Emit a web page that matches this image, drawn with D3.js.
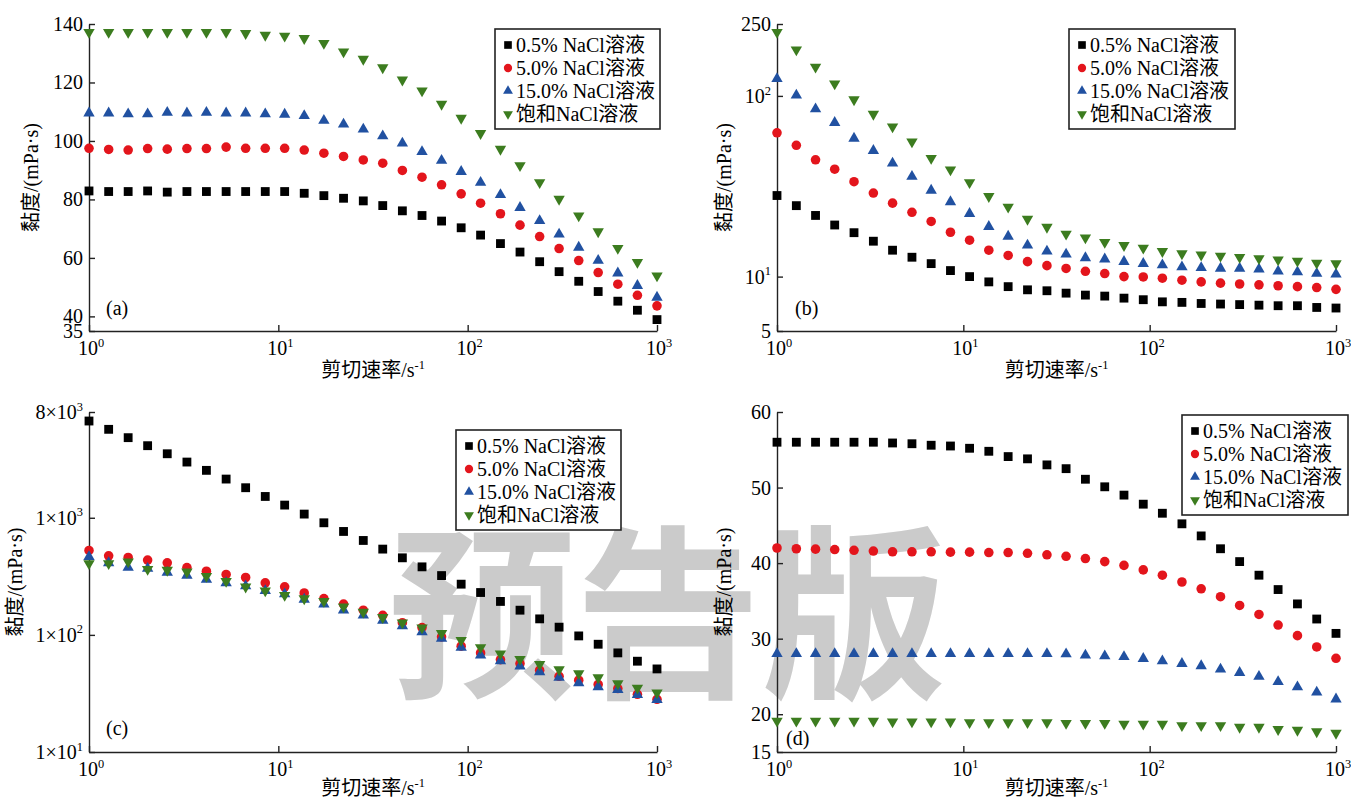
<!DOCTYPE html>
<html>
<head>
<meta charset="utf-8">
<script src="https://cdn.jsdelivr.net/npm/d3@7"></script>
<style>
  body { margin: 0; background: #fff; }
  text { font-family: "Liberation Serif", "Noto Sans CJK SC", serif; }
</style>
</head>
<body>
<script>
// shear rate points (s^-1), same for every panel
var shearRate = [1.00, 1.27, 1.61, 2.04, 2.59, 3.29, 4.17, 5.30, 6.72, 8.53,
  10.8, 13.7, 17.4, 22.1, 28.1, 35.6, 45.2, 57.4, 72.8, 92.4,
  117, 149, 189, 240, 304, 386, 489, 621, 788, 1000];

var seriesNames = ["0.5% NaCl溶液", "5.0% NaCl溶液", "15.0% NaCl溶液", "饱和NaCl溶液"];

// panel (a)
var a05 = [82.9,82.7,82.7,82.9,82.5,82.7,82.7,82.7,82.7,82.7,82.7,82.1,81.3,80.4,79.5,77.9,76.1,74.5,72.6,70.3,67.8,64.9,62.0,58.7,55.3,52.0,48.5,45.2,42.1,38.9];
var a50 = [97.5,97.1,96.9,97.4,97.2,97.4,97.4,97.9,97.5,97.5,97.5,96.9,95.8,94.7,93.5,92.4,89.9,87.6,85.0,81.9,78.7,75.1,71.2,67.3,63.2,59.1,55.0,51.0,47.2,43.6];
var a150 = [109.5,109.5,109.2,109.2,109.7,109.5,109.7,109.5,109.5,109.2,109.1,108.6,107.0,105.7,104.0,101.7,99.2,96.3,93.3,89.5,85.8,81.6,77.2,72.7,68.1,63.6,59.1,54.8,50.5,46.5];
var aSat = [137.2,137.2,137.2,137.2,137.2,137.2,137.2,137.2,136.8,136.2,135.9,135.1,133.4,130.5,128.0,125.1,120.9,117.2,112.6,107.8,102.6,97.2,91.6,85.8,80.1,74.4,69.0,63.3,58.5,53.9];
var aTicks = [35, 40, 60, 80, 100, 120, 140];
var aTickLabels = ["35", "40", "60", "80", "100", "120", "140"];

// panel (b)
var b05 = [28.1,24.7,21.8,19.3,17.5,15.7,14.0,12.8,11.8,10.8,10.0,9.35,8.8,8.45,8.35,8.1,7.9,7.8,7.6,7.45,7.25,7.2,7.1,7.05,7.0,6.95,6.9,6.9,6.75,6.7];
var b50 = [62.5,53.3,44.3,39.3,33.5,29.0,25.5,22.7,20.2,17.6,15.9,14.0,13.1,12.1,11.5,11.1,10.7,10.4,10.0,9.96,9.8,9.55,9.35,9.2,9.1,9.0,8.9,8.8,8.7,8.5];
var b150 = [124.5,100.8,84.6,71.1,58.2,49.8,42.4,35.8,30.0,25.9,22.3,18.9,16.7,14.9,13.8,13.3,12.7,12.5,12.1,11.8,11.6,11.3,11.2,11.1,11.1,11.0,10.7,10.6,10.4,10.3];
var bSat = [225,180,144.5,116.8,95.4,79.3,67.5,55.8,45.2,39.0,33.2,27.8,24.3,20.8,18.8,17.2,16.4,15.5,14.9,14.4,13.8,13.4,13.2,13.0,12.8,12.6,12.4,12.2,11.9,11.8];
var bTicks = [5, 10, 100, 250];
var bTickLabels = ["5", "10^1", "10^2", "250"];

// panel (c)
var c05 = [6700,5690,4830,4125,3520,2990,2540,2140,1805,1520,1283,1075,906,764,640,540,455,381,321,271,230,193,162.5,137,116.4,98,83.2,70.2,59.6,51.2];
var c50 = [526,473,458,435,412,376,350,328,309,278,257,228,204,183,162.5,147,127,115.5,96.2,80,70.2,61.5,56.9,49.9,44.3,41.0,37.7,34.8,31.1,28.2];
var c150 = [464,412,376,369,341,322,297,278,261,238,223,201,183,162.5,147,133,119,106,93,78,67,60,54,48.3,43.2,38.9,36,34.1,30.9,28.0];
var cSat = [407,407,421,364,357,345,317,287,257,238,218,204,194,174,157,141,127,115,103,90,78,69,62,56,50.5,46.8,43.2,38.4,35.2,32.1];
var cTicks = [10, 100, 1000, 8000];
var cTickLabels = ["1×10^1", "1×10^2", "1×10^3", "8×10^3"];

// panel (d)
var d05 = [56.0,56.0,56.0,56.0,56.0,56.0,55.9,55.8,55.6,55.5,55.2,54.8,54.1,53.8,53.0,52.5,51.1,50.1,49.0,47.8,46.6,45.2,43.6,41.9,40.2,38.4,36.5,34.6,32.6,30.7];
var d50 = [42.0,41.9,41.85,41.8,41.7,41.6,41.5,41.5,41.5,41.45,41.45,41.4,41.4,41.3,41.1,40.9,40.6,40.2,39.7,39.1,38.4,37.5,36.6,35.55,34.4,33.2,31.8,30.4,28.9,27.4];
var d150 = [28.0,28.0,28.0,28.0,28.0,28.0,28.0,28.0,28.0,28.0,28.0,28.0,28.0,28.0,28.0,27.97,27.8,27.7,27.6,27.35,27.05,26.7,26.4,25.95,25.5,25.0,24.3,23.6,22.9,22.0];
var dSat = [19.1,19.1,19.1,19.1,19.1,19.1,19.0,19.0,19.0,19.0,18.9,18.9,18.9,18.9,18.9,18.8,18.8,18.8,18.7,18.7,18.7,18.5,18.5,18.5,18.3,18.3,18.0,17.9,17.7,17.5];
var dTicks = [15, 20, 30, 40, 50, 60];
var dTickLabels = ["15", "20", "30", "40", "50", "60"];

var xTicks = [1, 10, 100, 1000];
var xTickLabels = ["10^0", "10^1", "10^2", "10^3"];

var colors = ["#000000", "#e3151c", "#2151a1", "#3c7c1f"];
var shapes = [d3.symbolSquare, d3.symbolCircle, d3.symbolTriangle, d3.symbolTriangle];
var sizes = [78, 72, 56, 56];
var fs = 20;

var svg = d3.select("body").append("svg")
  .attr("width", 1351)
  .attr("height", 801);

// watermark
svg.append("text")
  .attr("x", 668)
  .attr("y", 684)
  .attr("text-anchor", "middle")
  .style("font-family", "'Noto Sans CJK SC', sans-serif")
  .style("font-weight", "bold")
  .style("font-size", "186px")
  .style("fill", "#cbcbcb")
  .text("预告版");

function supText(sel, str, size) {
  var parts = str.split("^");
  sel.append("tspan").text(parts[0]);
  if (parts.length > 1) {
    sel.append("tspan")
      .attr("dy", -size * 0.42)
      .style("font-size", (size * 0.62) + "px")
      .text(parts[1]);
  }
}

function symbolPath(i, size) {
  return d3.symbol().type(shapes[i]).size(size)();
}

var panels = [
  {left: 89, right: 657, bottom: 331, top: 24, log: false, domain: [35, 140],
   ticks: aTicks, labels: aTickLabels, data: [a05, a50, a150, aSat],
   legend: [495, 29, 165, 100], tag: "(a)", tagX: 106, tagY: 315, yTitleX: 38, xTitleY: 377},
  {left: 777, right: 1336, bottom: 331, top: 24, log: true, domain: [5, 250],
   ticks: bTicks, labels: bTickLabels, data: [b05, b50, b150, bSat],
   legend: [1069, 29, 166, 100], tag: "(b)", tagX: 795, tagY: 315, yTitleX: 731, xTitleY: 377},
  {left: 89, right: 657, bottom: 752, top: 412, log: true, domain: [10, 8000],
   ticks: cTicks, labels: cTickLabels, data: [c05, c50, c150, cSat],
   legend: [456, 430, 165, 100], tag: "(c)", tagX: 106, tagY: 735, yTitleX: 22, xTitleY: 795},
  {left: 777, right: 1336, bottom: 752, top: 412, log: false, domain: [15, 60],
   ticks: dTicks, labels: dTickLabels, data: [d05, d50, d150, dSat],
   legend: [1182, 415, 166, 100], tag: "(d)", tagX: 786, tagY: 745, yTitleX: 731, xTitleY: 795}
];

panels.forEach(function(p) {
  var g = svg.append("g");

  var x = d3.scaleLog().domain([1, 1000]).range([p.left, p.right]);
  var y = (p.log ? d3.scaleLog() : d3.scaleLinear()).domain(p.domain).range([p.bottom, p.top]);

  // axes, ticks pointing inwards
  g.append("g")
    .attr("transform", "translate(0," + p.bottom + ")")
    .call(d3.axisBottom(x).tickValues(xTicks).tickSizeInner(-6).tickSizeOuter(0).tickFormat(""))
    .call(function(s) { s.selectAll("path, line").attr("stroke", "#222").attr("stroke-width", 1.4); });

  g.append("g")
    .attr("transform", "translate(" + p.left + ",0)")
    .call(d3.axisLeft(y).tickValues(p.ticks).tickSizeInner(-6).tickSizeOuter(0).tickFormat(""))
    .call(function(s) { s.selectAll("path, line").attr("stroke", "#222").attr("stroke-width", 1.4); });

  xTicks.forEach(function(t, i) {
    g.append("text")
      .attr("x", x(t) + 2)
      .attr("y", p.bottom + 24)
      .attr("text-anchor", "middle")
      .style("font-size", fs + "px")
      .call(supText, xTickLabels[i], fs);
  });

  p.ticks.forEach(function(t, i) {
    g.append("text")
      .attr("x", p.left - 6)
      .attr("y", y(t) + 7)
      .attr("text-anchor", "end")
      .style("font-size", fs + "px")
      .call(supText, p.labels[i], fs);
  });

  // axis titles
  g.append("text")
    .attr("x", (p.left + p.right) / 2)
    .attr("y", p.xTitleY)
    .attr("text-anchor", "middle")
    .style("font-size", fs + "px")
    .call(supText, "剪切速率/s^-1", fs);

  g.append("text")
    .attr("transform", "translate(" + p.yTitleX + "," + ((p.top + p.bottom) / 2) + ")rotate(-90)")
    .attr("text-anchor", "middle")
    .style("font-size", fs + "px")
    .text("黏度/(mPa·s)");

  g.append("text")
    .attr("x", p.tagX)
    .attr("y", p.tagY)
    .style("font-size", fs + "px")
    .text(p.tag);

  // markers
  p.data.forEach(function(vals, si) {
    g.selectAll(null)
      .data(vals)
      .enter()
      .append("path")
        .attr("d", symbolPath(si, sizes[si]))
        .attr("transform", function(d, i) {
          return "translate(" + x(shearRate[i]) + "," + y(d) + ")" + (si === 3 ? "rotate(180)" : "");
        })
        .attr("fill", colors[si]);
  });

  // legend
  var L = p.legend;
  g.append("rect")
    .attr("x", L[0]).attr("y", L[1])
    .attr("width", L[2]).attr("height", L[3])
    .attr("fill", "#fff")
    .attr("stroke", "#222")
    .attr("stroke-width", 1.6);

  seriesNames.forEach(function(name, si) {
    var cy = L[1] + 16 + si * 23;
    g.append("path")
      .attr("d", symbolPath(si, sizes[si] * 0.75))
      .attr("transform", "translate(" + (L[0] + 13) + "," + cy + ")" + (si === 3 ? "rotate(180)" : ""))
      .attr("fill", colors[si]);
    g.append("text")
      .attr("x", L[0] + 21)
      .attr("y", cy + 7)
      .style("font-size", fs + "px")
      .text(name);
  });
});
</script>
</body>
</html>
